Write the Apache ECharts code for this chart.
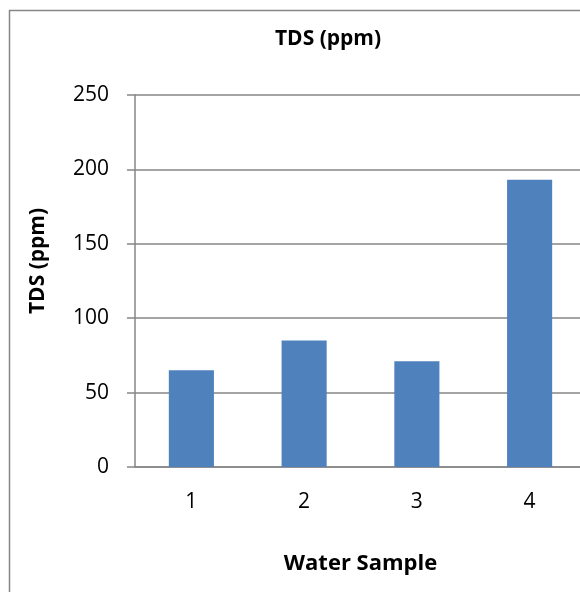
<!DOCTYPE html>
<html><head><meta charset="utf-8">
<script src="https://cdn.jsdelivr.net/npm/echarts@6/dist/echarts.min.js"></script>
<style>html,body{margin:0;padding:0;background:#fff}#c{width:580px;height:592px}</style>
</head><body><div id="c"></div>
<script>
const categories = ['1', '2', '3', '4'];
const tdsValues = [65, 85, 71, 193];
const yTicks = [0, 50, 100, 150, 200, 250];
const titleText = 'TDS (ppm)';
const yName = 'TDS (ppm)';
const xName = 'Water Sample';

const font = "'Open Sans', 'Liberation Sans', sans-serif";
const chart = echarts.init(document.getElementById('c'));
chart.setOption({
  animation: false,
  backgroundColor: '#fff',
  graphic: [{
    type: 'rect', left: 7, top: 8, z: -1,
    shape: { width: 700, height: 700 },
    style: { fill: 'none', stroke: '#868686', lineWidth: 1.5 }
  }],
  title: {
    text: titleText, left: 323, top: 24, textAlign: 'center',
    textStyle: { fontFamily: font, fontWeight: 'bold', fontSize: 21, color: '#000' }
  },
  grid: { left: 135, top: 95, right: -6, bottom: 125, containLabel: false, outerBoundsMode: 'none' },
  xAxis: {
    type: 'category', data: categories,
    name: xName, nameLocation: 'middle', nameGap: 86,
    nameTextStyle: { fontFamily: font, fontWeight: 'bold', fontSize: 22, color: '#000' },
    axisLine: { lineStyle: { color: '#868686', width: 1.5 } },
    axisTick: { show: false },
    axisLabel: { fontFamily: font, fontSize: 21, color: '#000', margin: 25 }
  },
  yAxis: {
    type: 'value', min: yTicks[0], max: yTicks[yTicks.length - 1], interval: 50,
    name: yName, nameLocation: 'middle', nameGap: 86, nameRotate: 90,
    nameTextStyle: { fontFamily: font, fontWeight: 'bold', fontSize: 21, color: '#000', padding: [0, 0, 0, 40] },
    axisLine: { show: true, lineStyle: { color: '#868686', width: 1.5 } },
    axisTick: { show: true, length: 8, lineStyle: { color: '#868686', width: 1.5 } },
    axisLabel: { fontFamily: font, fontSize: 21, color: '#000', margin: 26 },
    splitLine: { lineStyle: { color: '#868686', width: 1.5 } }
  },
  series: [{
    type: 'bar', data: tdsValues, barWidth: '40%',
    itemStyle: { color: '#4F81BD' }
  }]
});
</script></body></html>
